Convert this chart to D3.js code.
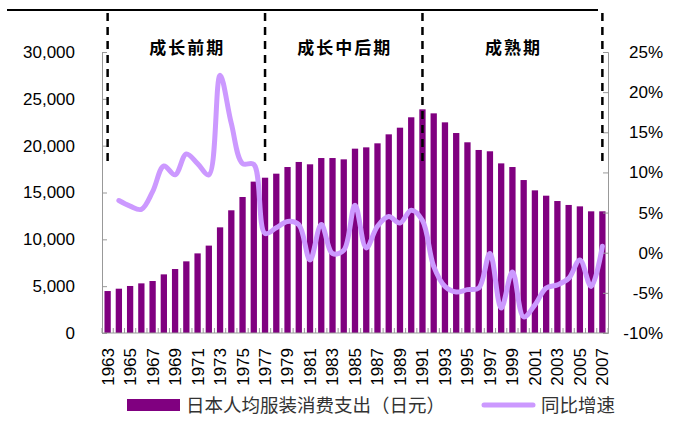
<!DOCTYPE html>
<html><head><meta charset="utf-8">
<script src="https://cdn.jsdelivr.net/npm/d3@7"></script>
<style>
body{margin:0;background:#fff;}
svg{display:block;}
</style></head>
<body><svg id="c" width="673" height="421"></svg>
<script>
const years = d3.range(1963, 2008);
const spending = [4480,4730,5020,5300,5550,6260,6830,7650,8500,9330,
  11280,13100,14520,16160,16580,17010,17720,18260,18010,18680,
  18680,18540,19680,19820,20250,21210,21920,23030,23880,23450,
  22490,21350,20360,19540,19400,18110,17720,16330,15230,14660,
  14090,13670,13520,12990,12990];
const growthYears = d3.range(1964, 2008);
const growth = [6.5,5.8,5.4,7.6,10.8,9.7,12.3,11.1,9.7,22.1,
  16.1,11.1,11.0,2.4,3.1,3.9,3.5,-0.9,3.5,-0.1,
  0.3,5.9,0.6,3.3,4.5,3.7,5.3,4.0,-1.7,-4.2,
  -4.9,-4.6,-4.4,-0.1,-6.9,-2.4,-8.0,-6.5,-4.4,-4.0,
  -3.2,-0.9,-4.2,0.8];
const leftTicks = [0,5000,10000,15000,20000,25000,30000];
const rightTicks = [-10,-5,0,5,10,15,20,25];
const xLabelYears = d3.range(1963, 2008, 2);
const phaseBounds = [1963, 1977, 1991, 2007];
const phaseNames = ["成长前期", "成长中后期", "成熟期"];
const legendNames = ["日本人均服装消费支出（日元）", "同比增速"];

const barColor = "#800080", lineColor = "#CC99FF", axisColor = "#999";
const latin = "'Liberation Sans', Arial, sans-serif";
const cjk = "'Noto Sans CJK SC', sans-serif";

const svg = d3.select("#c");
const L = 102, R = 608, T = 52, B = 333;

const x = d3.scaleBand().domain(years).range([L, R]).paddingInner(0.44).paddingOuter(0.22);
const yL = d3.scaleLinear().domain([0, 30000]).range([B, T]);
const yR = d3.scaleLinear().domain([-10, 25]).range([B, T]);
const cx = yr => x(yr) + x.bandwidth() / 2;

// bars
svg.append("g").selectAll("rect").data(years).join("rect")
  .attr("x", d => x(d)).attr("width", x.bandwidth())
  .attr("y", (d, i) => yL(spending[i])).attr("height", (d, i) => B - yL(spending[i]))
  .attr("fill", barColor);

// left axis
const gL = svg.append("g").attr("transform", `translate(${L},0)`)
  .call(d3.axisLeft(yL).tickValues(leftTicks).tickSize(-5).tickPadding(27).tickFormat(d3.format(",")));
gL.selectAll(".domain,line").attr("stroke", axisColor);
gL.selectAll("text").attr("font-family", latin).attr("font-size", 17).attr("fill", "#000");

// right axis
const gR = svg.append("g").attr("transform", `translate(${R},0)`)
  .call(d3.axisRight(yR).tickValues(rightTicks).tickSize(-5).tickPadding(0).tickFormat(d => d + "%"));
gR.selectAll(".domain,line").attr("stroke", axisColor);
gR.selectAll("text").attr("font-family", latin).attr("font-size", 17).attr("fill", "#000")
  .attr("text-anchor", "end").attr("x", 55);

// bottom axis
svg.append("line").attr("x1", L).attr("x2", R).attr("y1", B).attr("y2", B).attr("stroke", axisColor);
svg.append("g").selectAll("line").data(d3.range(years.length + 1)).join("line")
  .attr("x1", i => L + i * x.step()).attr("x2", i => L + i * x.step())
  .attr("y1", B).attr("y2", B - 5).attr("stroke", axisColor);
svg.append("g").selectAll("text").data(xLabelYears).join("text")
  .attr("transform", d => `translate(${cx(d)},348) rotate(-90)`)
  .attr("text-anchor", "end").attr("dy", "0.35em")
  .attr("font-family", latin).attr("font-size", 17).attr("fill", "#000")
  .text(d => d);

// top line
svg.append("line").attr("x1", 7).attr("x2", 598).attr("y1", 10).attr("y2", 10)
  .attr("stroke", "#000").attr("stroke-width", 2);

// phase dashed lines
svg.append("g").selectAll("line").data(phaseBounds).join("line")
  .attr("x1", d => cx(d)).attr("x2", d => cx(d)).attr("y1", 13).attr("y2", 161)
  .attr("stroke", "#000").attr("stroke-width", 2.5).attr("stroke-dasharray", "8,6");

// phase labels
svg.append("g").selectAll("text").data(phaseNames).join("text")
  .attr("x", (d, i) => (cx(phaseBounds[i]) + cx(phaseBounds[i + 1])) / 2 + 1)
  .attr("y", 54).attr("text-anchor", "middle")
  .attr("font-family", cjk).attr("font-weight", "bold").attr("font-size", 17)
  .attr("letter-spacing", 2).attr("fill", "#000").text(d => d);

// growth line
const line = d3.line().x((d, i) => cx(growthYears[i])).y(d => yR(d)).curve(d3.curveCatmullRom.alpha(0.5));
svg.append("path").datum(growth).attr("d", line)
  .attr("fill", "none").attr("stroke", lineColor).attr("stroke-width", 5)
  .attr("stroke-linejoin", "round").attr("stroke-linecap", "round");

// legend
svg.append("rect").attr("x", 127).attr("y", 399).attr("width", 53).attr("height", 12).attr("fill", barColor);
svg.append("text").attr("x", 186).attr("y", 411.5).attr("font-family", cjk).attr("font-size", 18.5)
  .attr("fill", "#333").text(legendNames[0]);
svg.append("line").attr("x1", 484).attr("x2", 533).attr("y1", 405).attr("y2", 405)
  .attr("stroke", lineColor).attr("stroke-width", 5).attr("stroke-linecap", "round");
svg.append("text").attr("x", 541).attr("y", 411.5).attr("font-family", cjk).attr("font-size", 18.5)
  .attr("fill", "#333").text(legendNames[1]);
</script></body></html>
